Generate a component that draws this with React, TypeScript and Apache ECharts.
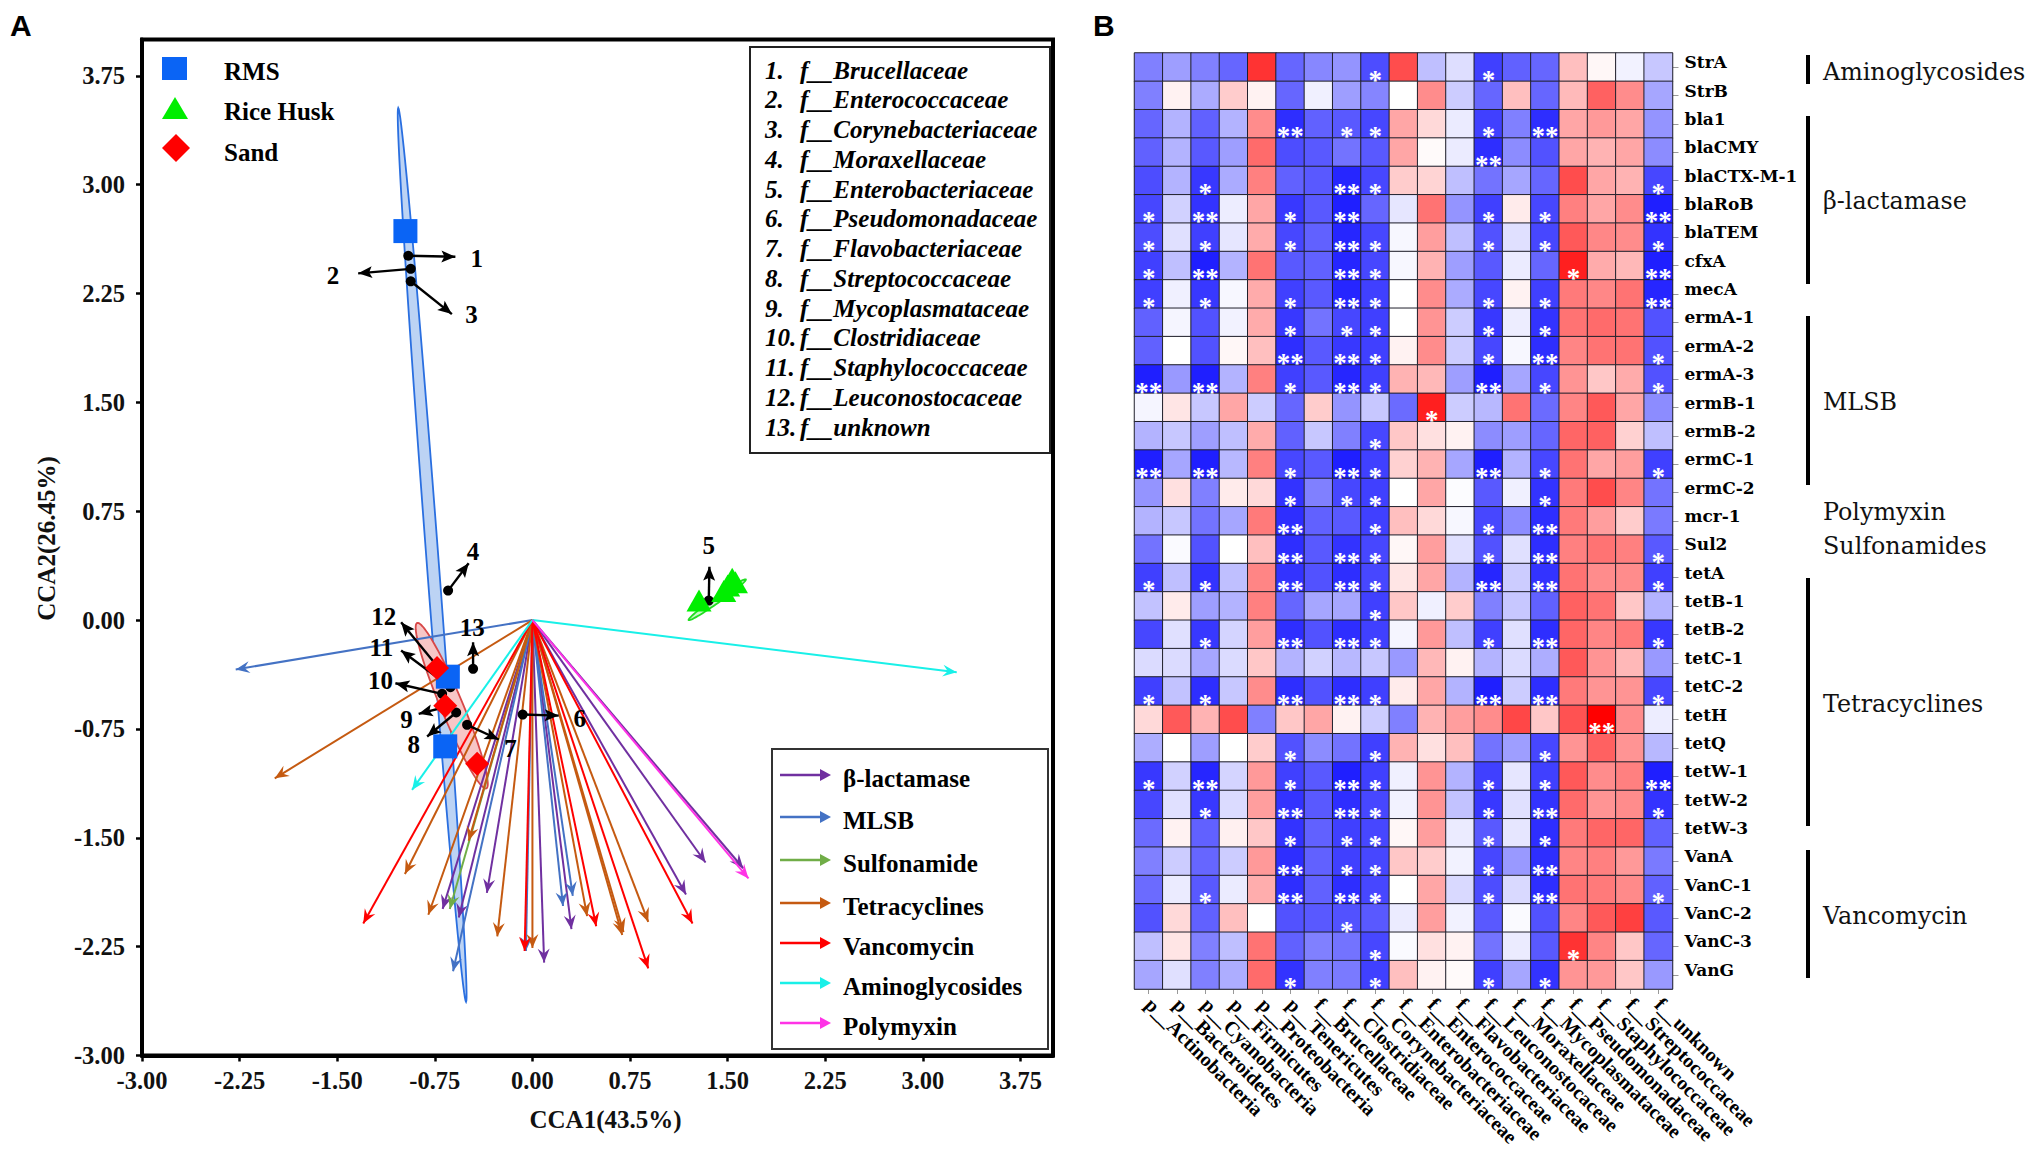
import React, { useEffect, useRef } from "react";
import * as echarts from "echarts";

const SERIF = '"Liberation Serif", serif';
const WIDE = '"DejaVu Serif", serif';

const tickValues = [-3, -2.25, -1.5, -0.75, 0, 0.75, 1.5, 2.25, 3, 3.75];

const rmsPoints = [[-0.976, 2.68], [-0.65, -0.39], [-0.67, -0.87]];
const huskPoints = [[1.28, 0.134], [1.535, 0.285], [1.5, 0.238], [1.47, 0.2], [1.56, 0.26]];
const sandPoints = [[-0.733, -0.33], [-0.67, -0.59], [-0.425, -0.99]];

// end A (x, y), end B (x, y), half width in px
const rmsEllipse = [[-1.031, 3.528, -0.51, -2.63, 6]];
const huskEllipse = [[1.2, 0.0, 1.64, 0.28, 3]];
const sandEllipse = [[-0.886, -0.02, -0.354, -1.16, 11]];

const betaTips = [[-0.69, -1.99], [-0.566, -2.05], [-0.35, -1.88], [0.09, -2.36], [0.3, -2.13], [1.18, -1.89], [1.33, -1.67], [1.62, -1.71]];
const mlsbTips = [[-2.28, -0.34], [-0.61, -2.42], [-0.05, -2.28], [0.235, -1.97], [0.31, -1.9]];
const sulfaTips = [[-0.635, -1.99]];
const tetraTips = [[-1.98, -1.09], [-0.98, -1.75], [-0.8, -2.03], [-0.49, -1.52], [-0.27, -2.18], [0.0, -2.26], [0.42, -2.04], [0.69, -2.17], [0.7, -2.15], [0.89, -2.08]];
const vancoTips = [[-1.3, -2.09], [-0.06, -2.28], [0.49, -2.11], [0.89, -2.4], [1.23, -2.09]];
const aminoTips = [[3.26, -0.36], [-0.925, -1.17]];
const polyTips = [[1.66, -1.78]];

const vectorGroups = [
  { name: "β-lactamase", tips: betaTips, color: "#7030a0" },
  { name: "MLSB", tips: mlsbTips, color: "#4472c4" },
  { name: "Sulfonamide", tips: sulfaTips, color: "#70ad47" },
  { name: "Tetracyclines", tips: tetraTips, color: "#c55a11" },
  { name: "Vancomycin", tips: vancoTips, color: "#ff0000" },
  { name: "Aminoglycosides", tips: aminoTips, color: "#19f0e8" },
  { name: "Polymyxin", tips: polyTips, color: "#ff33e6" },
];

// dotX, dotY, arrowX, arrowY, labelX, labelY, label
const taxa = [
  [-0.954, 2.51, -0.592, 2.503, -0.427, 2.494, "1"],
  [-0.935, 2.42, -1.339, 2.389, -1.533, 2.377, "2"],
  [-0.935, 2.334, -0.619, 2.108, -0.469, 2.108, "3"],
  [-0.648, 0.203, -0.49, 0.391, -0.456, 0.474, "4"],
  [1.355, 0.134, 1.36, 0.368, 1.355, 0.513, "5"],
  [-0.075, -0.651, 0.202, -0.658, 0.364, -0.678, "6"],
  [-0.502, -0.722, -0.259, -0.823, -0.169, -0.887, "7"],
  [-0.586, -0.637, -0.809, -0.802, -0.912, -0.86, "8"],
  [-0.648, -0.594, -0.874, -0.646, -0.968, -0.685, "9"],
  [-0.694, -0.508, -1.053, -0.435, -1.168, -0.417, "10"],
  [-0.63, -0.463, -1.009, -0.21, -1.161, -0.187, "11"],
  [-0.63, -0.428, -1.009, -0.015, -1.143, 0.024, "12"],
  [-0.456, -0.336, -0.456, -0.153, -0.463, -0.05, "13"],
];

const familyKey = ["f__Brucellaceae", "f__Enterococcaceae", "f__Corynebacteriaceae", "f__Moraxellaceae", "f__Enterobacteriaceae", "f__Pseudomonadaceae", "f__Flavobacteriaceae", "f__Streptococcaceae", "f__Mycoplasmataceae", "f__Clostridiaceae", "f__Staphylococcaceae", "f__Leuconostocaceae", "f__unknown"];

const columns = ["p__Actinobacteria", "p__Bacteroidetes", "p__Cyanobacteria", "p__Firmicutes", "p__Proteobacteria", "p__Tenericutes", "f__Brucellaceae", "f__Clostridiaceae", "f__Corynebacteriaceae", "f__Enterobacteriaceae", "f__Enterococcaceae", "f__Flavobacteriaceae", "f__Leuconostocaceae", "f__Moraxellaceae", "f__Mycoplasmataceae", "f__Pseudomonadaceae", "f__Staphylococcaceae", "f__Streptococcaceae", "f__unknown"];
const genes = ["StrA", "StrB", "bla1", "blaCMY", "blaCTX-M-1", "blaRoB", "blaTEM", "cfxA", "mecA", "ermA-1", "ermA-2", "ermA-3", "ermB-1", "ermB-2", "ermC-1", "ermC-2", "mcr-1", "Sul2", "tetA", "tetB-1", "tetB-2", "tetC-1", "tetC-2", "tetH", "tetQ", "tetW-1", "tetW-2", "tetW-3", "VanA", "VanC-1", "VanC-2", "VanC-3", "VanG"];

const heat = [
  [-50,-38,-50,-60,80,-60,-47,-42,-70,70,-25,-13,-75,-62,-60,25,3,-5,-22],
  [-50,5,-33,20,5,-60,-6,-38,-48,0,45,-20,-60,25,-60,27,62,45,-35],
  [-60,-30,-62,-30,45,-82,-62,-65,-72,35,15,-8,-75,-50,-82,35,40,35,-42],
  [-62,-30,-65,-38,58,-70,-65,-55,-65,35,2,-8,-82,-45,-68,35,30,35,-45],
  [-70,-30,-78,-33,50,-62,-65,-85,-72,20,17,-25,-55,-35,-60,70,35,30,-72],
  [-72,-18,-80,-7,35,-78,-65,-88,-60,-10,55,-42,-75,8,-72,50,35,45,-88],
  [-70,-12,-75,-10,33,-72,-62,-85,-72,-3,38,-25,-68,-12,-72,65,47,45,-80],
  [-75,-25,-88,-30,55,-65,-62,-85,-72,-3,30,-38,-65,-8,-60,88,33,28,-88],
  [-75,-6,-78,-3,33,-75,-65,-85,-75,0,45,-33,-72,5,-75,52,47,55,-85],
  [-62,-4,-68,-5,33,-78,-55,-72,-75,0,42,-20,-78,-7,-80,55,58,55,-68],
  [-62,0,-68,3,25,-82,-65,-78,-75,5,45,-20,-72,-3,-82,48,55,55,-68],
  [-88,-40,-88,-30,50,-75,-65,-85,-75,30,28,-38,-88,-35,-72,42,22,33,-68],
  [-4,10,-22,35,-20,-60,20,-42,-22,-58,88,-20,-28,55,-58,48,65,35,-45],
  [-30,-22,-38,-25,33,-62,-22,-50,-72,22,12,5,-45,-38,-60,60,62,18,-25],
  [-88,-35,-88,-28,50,-72,-65,-88,-75,18,30,-35,-88,-30,-72,55,35,38,-75],
  [-42,12,-50,8,15,-80,-50,-72,-75,0,35,-1,-65,-6,-80,52,70,48,-55],
  [-30,-22,-55,-35,52,-82,-62,-65,-75,25,15,-3,-72,-45,-82,52,38,20,-52],
  [-55,-2,-68,0,25,-82,-65,-80,-72,3,38,-12,-68,-12,-82,50,55,50,-65],
  [-75,-25,-80,-25,48,-80,-68,-82,-72,10,35,-30,-85,-20,-80,55,45,45,-75],
  [-24,8,-38,-30,50,-60,-35,-35,-75,22,-6,20,-50,-22,-62,62,55,22,-30],
  [-72,-12,-78,-17,38,-82,-68,-82,-75,-4,40,-25,-75,-12,-82,60,48,52,-78],
  [-14,-14,-35,-14,22,-30,-18,-28,-22,-40,28,5,-30,-14,-32,65,42,28,-40],
  [-75,-24,-82,-22,45,-82,-68,-82,-75,8,35,-30,-88,-20,-82,52,42,42,-72],
  [15,65,30,70,-50,22,35,5,-20,-50,30,38,45,72,22,68,100,45,-7],
  [-32,0,-38,0,20,-68,-45,-55,-75,30,12,25,-55,-38,-72,42,62,42,-28],
  [-78,-18,-85,-17,40,-75,-65,-88,-75,-6,42,-30,-75,-10,-75,65,45,50,-88],
  [-72,-12,-78,-14,38,-80,-65,-82,-72,-5,42,-24,-78,-12,-80,58,42,45,-80],
  [-58,5,-62,6,22,-80,-62,-75,-72,3,38,-8,-65,-10,-82,52,60,60,-62],
  [-50,-20,-60,-20,40,-82,-62,-75,-72,22,20,-5,-72,-40,-82,48,50,40,-52],
  [-58,-8,-65,-8,32,-82,-62,-82,-72,0,35,-15,-70,-15,-82,55,52,46,-62],
  [-68,15,-62,25,0,-68,-65,-68,-65,-8,38,-5,-65,-2,-68,48,65,75,-65],
  [-25,10,-50,-25,55,-62,-50,-55,-72,-2,12,5,-55,-8,-65,80,48,22,-60],
  [-35,-12,-50,-32,58,-80,-50,-52,-75,25,5,2,-75,-35,-80,42,40,22,-40],
];

// columns that carry one star / two stars, per gene row
const oneStar = [
  [8,12],[],[7,8,12],[],[2,8,18],[0,5,12,14],[0,2,5,8,12,14,18],[0,8,15],[0,2,5,8,12,14],[5,7,8,12,14],[8,12,18],[5,8,14,18],[10],[8],[5,8,14,18],[5,7,8,14],[8,12],[8,12,18],[0,2,8,18],[8],[2,8,12,18],[],[0,2,8,18],[],[5,8,14],[0,5,8,12,14],[2,8,12,18],[5,7,8,12,14],[7,8,12],[2,8,12,18],[7],[8,15],[5,8,12,14],
];
const twoStars = [
  [],[],[5,14],[12],[7],[2,7,18],[7],[2,7,18],[7,18],[],[5,7,14],[0,2,7,12],[],[],[0,2,7,12],[],[5,14],[5,7,14],[5,7,12,14],[],[5,7,14],[],[5,7,12,14],[16],[],[2,7,18],[5,7,14],[],[5,14],[5,7,14],[],[],[],
];

const geneGroups = [
  { name: "Aminoglycosides", y: 71.5, from: 55, to: 84 },
  { name: "β-lactamase", y: 200.5, from: 116, to: 284 },
  { name: "MLSB", y: 402, from: 316, to: 485 },
  { name: "Polymyxin", y: 511.5 },
  { name: "Sulfonamides", y: 546 },
  { name: "Tetracyclines", y: 703.5, from: 578, to: 826 },
  { name: "Vancomycin", y: 916, from: 850, to: 978 },
];

const heatData: any[] = [];
heat.forEach((row, r) => row.forEach((v, c) => {
  heatData.push([c, r, v / 100]);
}));

function starText(r: number, c: number) {
  if (twoStars[r].includes(c)) return "**";
  if (oneStar[r].includes(c)) return "*";
  return "";
}

function arrowHead(tip: number[], from: number[], len: number, half: number, notch: number) {
  const dx = tip[0] - from[0];
  const dy = tip[1] - from[1];
  const d = Math.hypot(dx, dy) || 1;
  const ux = dx / d;
  const uy = dy / d;
  const bx = tip[0] - ux * len;
  const by = tip[1] - uy * len;
  return [
    tip,
    [bx - uy * half, by + ux * half],
    [tip[0] - ux * notch, tip[1] - uy * notch],
    [bx + uy * half, by - ux * half],
  ];
}

function vectorSeries(g: any) {
  return {
    type: "custom",
    name: g.name,
    xAxisIndex: 0,
    yAxisIndex: 0,
    clip: false,
    data: g.tips,
    encode: { x: 0, y: 1 },
    renderItem: (_: any, api: any) => {
      const tip = api.coord([api.value(0), api.value(1)]);
      const o = api.coord([0, 0]);
      return {
        type: "group",
        children: [
          { type: "line", shape: { x1: o[0], y1: o[1], x2: tip[0], y2: tip[1] }, style: { stroke: g.color, lineWidth: 2 } },
          { type: "polygon", shape: { points: arrowHead(tip, o, 14, 6, 9) }, style: { fill: g.color } },
        ],
      };
    },
  };
}

function ellipseSeries(name: string, rows: number[][], fill: string, stroke: string) {
  return {
    type: "custom",
    name,
    xAxisIndex: 0,
    yAxisIndex: 0,
    clip: false,
    data: rows,
    encode: { x: [0, 2], y: [1, 3] },
    renderItem: (_: any, api: any) => {
      const a = api.coord([api.value(0), api.value(1)]);
      const b = api.coord([api.value(2), api.value(3)]);
      const cx = (a[0] + b[0]) / 2;
      const cy = (a[1] + b[1]) / 2;
      const dx = (b[0] - a[0]) / 2;
      const dy = (b[1] - a[1]) / 2;
      const L = Math.hypot(dx, dy);
      const w = api.value(4);
      const pts: number[][] = [];
      for (let i = 0; i < 90; i++) {
        const t = (i / 90) * Math.PI * 2;
        const p = Math.cos(t);
        const q = Math.sin(t) * w;
        pts.push([cx + dx * p - (dy / L) * q, cy + dy * p + (dx / L) * q]);
      }
      return { type: "polygon", shape: { points: pts }, style: { fill, stroke, lineWidth: 1.8 } };
    },
  };
}

function App() {
  const ref = useRef<HTMLDivElement>(null);
  useEffect(() => {
    document.body.style.margin = "0";
    const chart = echarts.init(ref.current!, undefined, { renderer: "svg" });

    const graphic: any[] = [
      { type: "text", x: 10, y: 10, style: { text: "A", font: 'bold 30px "Liberation Sans"', fill: "#000" } },
      { type: "text", x: 1093, y: 10, style: { text: "B", font: 'bold 30px "Liberation Sans"', fill: "#000" } },
      // sample key
      { type: "rect", shape: { x: 162, y: 57, width: 25, height: 23 }, style: { fill: "#0a64f5" } },
      { type: "polygon", shape: { points: [[175, 97], [162, 119], [188, 119]] }, style: { fill: "#00ee00" } },
      { type: "polygon", shape: { points: [[176, 134], [190, 148], [176, 162], [162, 148]] }, style: { fill: "#ff0000" } },
      { type: "text", x: 224, y: 71, style: { text: "RMS", font: `bold 25px ${SERIF}`, fill: "#000", verticalAlign: "middle" } },
      { type: "text", x: 224, y: 111, style: { text: "Rice Husk", font: `bold 25px ${SERIF}`, fill: "#000", verticalAlign: "middle" } },
      { type: "text", x: 224, y: 152, style: { text: "Sand", font: `bold 25px ${SERIF}`, fill: "#000", verticalAlign: "middle" } },
      // taxa key
      { type: "rect", shape: { x: 750, y: 47, width: 300, height: 406 }, style: { fill: "#fff", stroke: "#222", lineWidth: 2 } },
      // vector key
      { type: "rect", shape: { x: 772, y: 749, width: 276, height: 300 }, style: { fill: "#fff", stroke: "#333", lineWidth: 2 } },
    ];
    familyKey.forEach((t, i) => {
      const y = 70 + i * 29.75;
      graphic.push({ type: "text", x: 765, y, style: { text: `${i + 1}.`, font: `italic bold 25px ${SERIF}`, fill: "#000", verticalAlign: "middle" } });
      graphic.push({ type: "text", x: 800, y, style: { text: t, font: `italic bold 25px ${SERIF}`, fill: "#000", verticalAlign: "middle" } });
    });
    const vectorKeyY = [775, 817, 860, 903, 943, 983, 1023];
    vectorGroups.forEach((g, i) => {
      const y = vectorKeyY[i];
      graphic.push({ type: "line", shape: { x1: 780, y1: y, x2: 825, y2: y }, style: { stroke: g.color, lineWidth: 2.5 } });
      graphic.push({ type: "polygon", shape: { points: [[831, y], [820, y - 6], [820, y + 6]] }, style: { fill: g.color } });
      graphic.push({ type: "text", x: 843, y: y + 3, style: { text: g.name, font: `bold 25px ${SERIF}`, fill: "#000", verticalAlign: "middle" } });
    });
    geneGroups.forEach((g) => {
      graphic.push({ type: "text", x: 1823, y: g.y, style: { text: g.name, font: `23.8px ${WIDE}`, fill: "#111", verticalAlign: "middle" } });
      if (g.from !== undefined) {
        graphic.push({ type: "rect", shape: { x: 1806, y: g.from, width: 4, height: (g.to as number) - g.from }, style: { fill: "#000" } });
      }
    });

    chart.setOption({
      animation: false,
      backgroundColor: "#fff",
      textStyle: { fontFamily: SERIF },
      grid: [
        { left: 142, top: 39.5, width: 911, height: 1016, show: true, borderColor: "#000", borderWidth: 4, backgroundColor: "transparent" },
        { left: 1134.5, top: 53, width: 538, height: 936, show: false },
      ],
      xAxis: [
        {
          type: "value", gridIndex: 0, min: -3, max: 4, splitLine: { show: false },
          axisLine: { show: true, onZero: false, lineStyle: { color: "#000", width: 4 } },
          axisTick: { show: true, customValues: tickValues, length: 6, lineStyle: { color: "#000", width: 2.5 } },
          axisLabel: { customValues: tickValues, formatter: (v: number) => v.toFixed(2), color: "#111", fontSize: 24.5, fontWeight: "bold", fontFamily: SERIF, margin: 12 },
          name: "CCA1(43.5%)", nameLocation: "middle", nameGap: 51,
          nameTextStyle: { color: "#111", fontSize: 25, fontWeight: "bold", fontFamily: SERIF, padding: [0, 0, 0, 16] },
        },
        {
          type: "category", gridIndex: 1, data: columns, position: "bottom",
          axisLine: { show: true, lineStyle: { color: "#999" } },
          axisTick: { show: true, alignWithLabel: true, length: 5, lineStyle: { color: "#999" } },
          axisLabel: { interval: 0, rotate: -45, color: "#000", fontSize: 20, fontWeight: "bold", fontFamily: SERIF, margin: 12 },
        },
      ],
      yAxis: [
        {
          type: "value", gridIndex: 0, min: -3, max: 4, splitLine: { show: false },
          axisLine: { show: true, onZero: false, lineStyle: { color: "#000", width: 4 } },
          axisTick: { show: true, customValues: tickValues, length: 6, lineStyle: { color: "#000", width: 2.5 } },
          axisLabel: { customValues: tickValues, formatter: (v: number) => v.toFixed(2), color: "#111", fontSize: 24.5, fontWeight: "bold", fontFamily: SERIF, margin: 17 },
          name: "CCA2(26.45%)", nameLocation: "middle", nameGap: 83,
          nameTextStyle: { color: "#111", fontSize: 25, fontWeight: "bold", fontFamily: SERIF, padding: [0, 0, 0, 18] },
        },
        {
          type: "category", gridIndex: 1, data: genes, inverse: true, position: "right",
          axisLine: { show: true, lineStyle: { color: "#999" } },
          axisTick: { show: true, alignWithLabel: true, length: 6, lineStyle: { color: "#999" } },
          axisLabel: { interval: 0, color: "#000", fontSize: 17, fontWeight: "bold", fontFamily: WIDE, margin: 12, verticalAlign: "bottom", lineHeight: 10 },
        },
      ],
      visualMap: {
        show: false, type: "continuous", min: -1, max: 1, seriesIndex: 0,
        inRange: { color: ["#0000ff", "#ffffff", "#ff0000"] },
      },
      series: [
        {
          type: "heatmap", xAxisIndex: 1, yAxisIndex: 1, data: heatData,
          itemStyle: { borderColor: "#20202c", borderWidth: 1 },
          label: {
            show: true, position: "insideBottom", distance: 0, offset: [0, 11],
            formatter: (p: any) => starText(p.value[1], p.value[0]),
            color: "#fff", fontSize: 27, fontWeight: "bold", fontFamily: SERIF,
          },
          emphasis: { disabled: true },
        },
        ellipseSeries("RMS ellipse", rmsEllipse, "#bcd3f4", "#2a6fe0"),
        ellipseSeries("Rice Husk ellipse", huskEllipse, "#c8f7c8", "#22dd22"),
        ellipseSeries("Sand ellipse", sandEllipse, "#f7c6c6", "#d84848"),
        { type: "scatter", name: "RMS", xAxisIndex: 0, yAxisIndex: 0, data: rmsPoints, symbol: "rect", symbolSize: 24, itemStyle: { color: "#0a64f5", opacity: 1 } },
        { type: "scatter", name: "Rice Husk", xAxisIndex: 0, yAxisIndex: 0, data: huskPoints, symbol: "triangle", symbolSize: [25, 22], itemStyle: { color: "#00ee00", opacity: 1 } },
        { type: "scatter", name: "Sand", xAxisIndex: 0, yAxisIndex: 0, data: sandPoints, symbol: "diamond", symbolSize: 24, itemStyle: { color: "#ff0000", opacity: 1 } },
        ...vectorGroups.map(vectorSeries),
        {
          type: "custom", name: "Taxa", xAxisIndex: 0, yAxisIndex: 0, clip: false, data: taxa,
          encode: { x: [0, 2, 4], y: [1, 3, 5] },
          dimensions: ["a", "b", "c", "d", "e", "f", { name: "label", type: "ordinal" }],
          renderItem: (params: any, api: any) => {
            const row = taxa[params.dataIndex] as any[];
            const d = api.coord([row[0], row[1]]);
            const e = api.coord([row[2], row[3]]);
            const l = api.coord([row[4], row[5]]);
            return {
              type: "group",
              children: [
                { type: "line", shape: { x1: d[0], y1: d[1], x2: e[0], y2: e[1] }, style: { stroke: "#000", lineWidth: 2.4 } },
                { type: "polygon", shape: { points: arrowHead(e, d, 14, 6, 11) }, style: { fill: "#000" } },
                { type: "circle", shape: { cx: d[0], cy: d[1], r: 5 }, style: { fill: "#000" } },
                { type: "text", x: l[0], y: l[1], style: { text: row[6], font: `bold 25px ${SERIF}`, fill: "#000", textAlign: "center", textVerticalAlign: "middle", verticalAlign: "middle", align: "center" } },
              ],
            };
          },
        },
      ],
      graphic,
    });
    return () => chart.dispose();
  }, []);
  return <div ref={ref} style={{ position: "absolute", left: 0, top: 0, width: 2033, height: 1150 }} />;
}

export default App;
